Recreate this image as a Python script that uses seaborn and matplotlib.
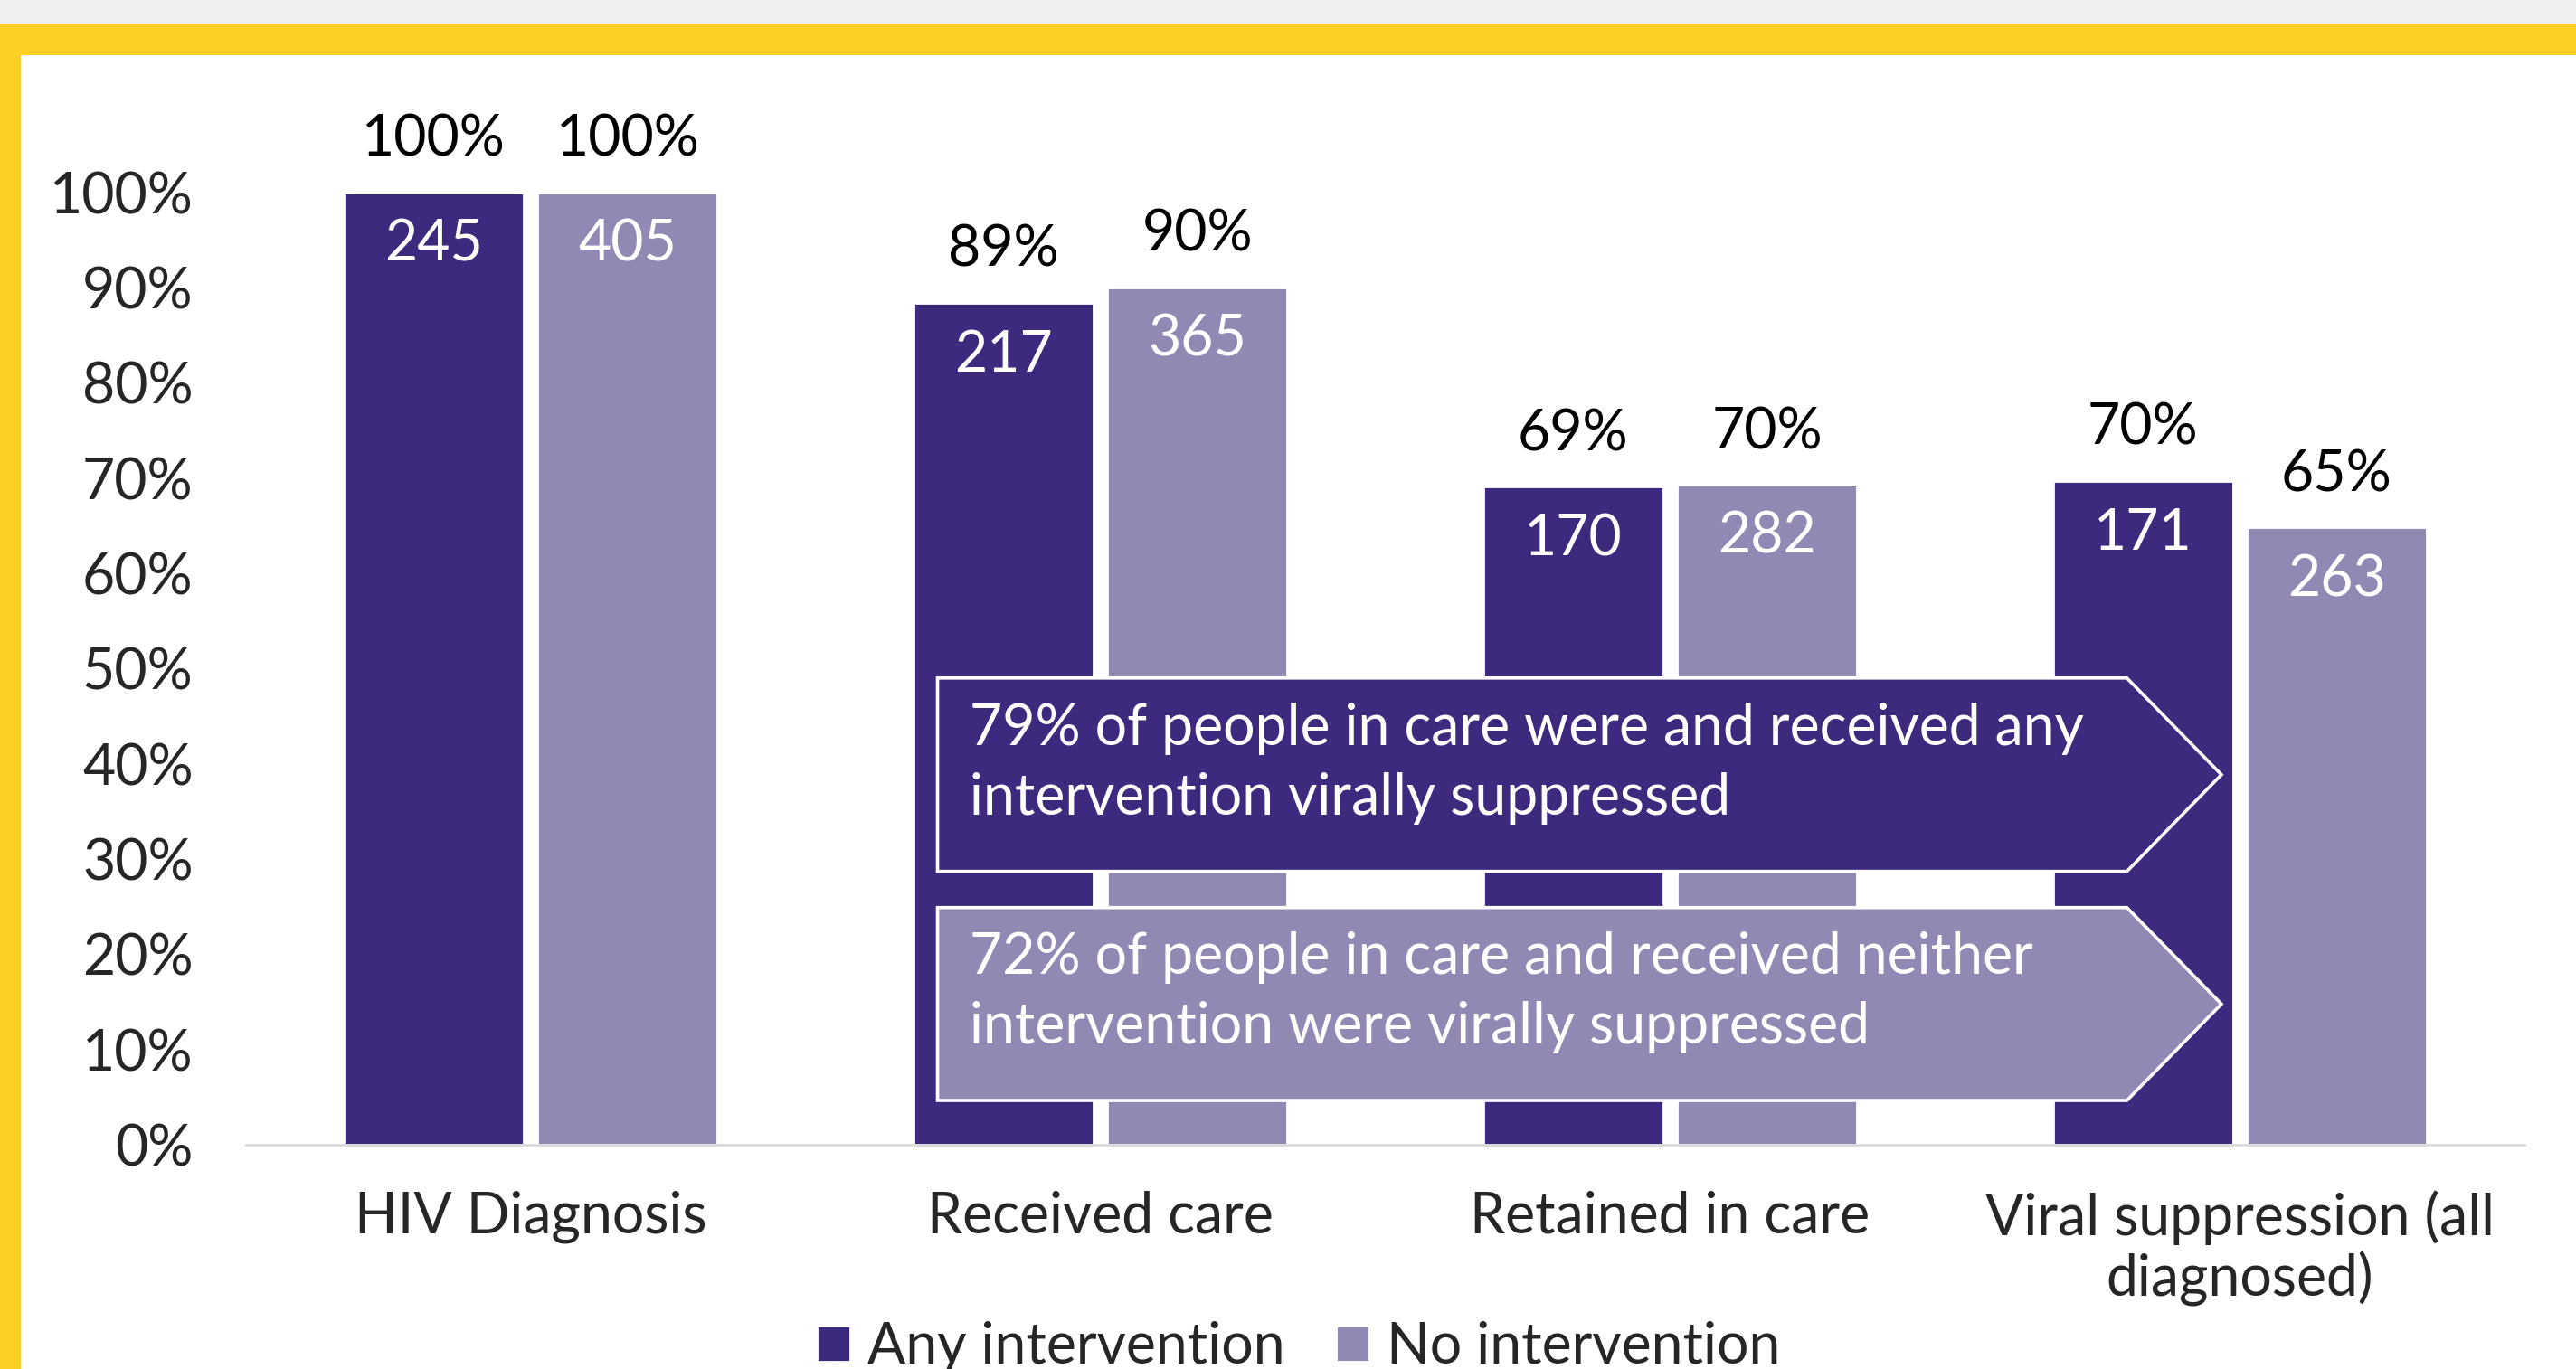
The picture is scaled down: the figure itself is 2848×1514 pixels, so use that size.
import matplotlib
matplotlib.use("Agg")
import matplotlib.pyplot as plt
from matplotlib.patches import Polygon, Rectangle
import pandas as pd
import seaborn as sns

# data
stages = ["HIV Diagnosis", "Received care", "Retained in care", "Viral suppression (all\ndiagnosed)"]
groups = ["Any intervention", "No intervention"]
any_height = [100, 88.4, 69.1, 69.7]
none_height = [100, 90.0, 69.3, 64.8]
any_pct = ["100%", "89%", "69%", "70%"]
none_pct = ["100%", "90%", "70%", "65%"]
any_n = ["245", "217", "170", "171"]
none_n = ["405", "365", "282", "263"]
yticks = list(range(0, 101, 10))
note_any = "79% of people in care were and received any\nintervention virally suppressed"
note_none = "72% of people in care and received neither\nintervention were virally suppressed"

DARK = "#3D2A7E"
LIGHT = "#9189B4"
YELLOW = "#FDD023"

df = pd.DataFrame({
    "stage": stages * 2,
    "group": [groups[0]] * 4 + [groups[1]] * 4,
    "height": any_height + none_height,
})

sns.set_style("white")
plt.rcParams["font.family"] = ["Lato", "DejaVu Sans"]
FS = 22.5

fig = plt.figure(figsize=(14.24, 7.57), dpi=200)
ax = fig.add_axes([0.0955, 0.1638, 0.8845, 0.6958])

sns.barplot(data=df, x="stage", y="height", hue="group", order=stages,
            hue_order=groups, palette=[DARK, LIGHT], width=0.68, gap=0.07,
            saturation=1, ax=ax)

ax.set_xlim(-0.5, 3.5)
ax.set_ylim(0, 100)
ax.set_yticks(yticks)
ax.set_yticklabels([f"{t}%" for t in yticks], fontsize=FS)
ax.tick_params(axis="y", length=0, pad=21)
ax.tick_params(axis="x", length=0, pad=18, labelsize=FS)
for lab in ax.get_xticklabels():
    lab.set_linespacing(1.15)
ax.set_xlabel("")
ax.set_ylabel("")
for s in ["top", "right", "left"]:
    ax.spines[s].set_visible(False)
ax.spines["bottom"].set_color("#D9D9D9")
ax.spines["bottom"].set_linewidth(1.0)

# value labels
for cont, pcts, ns in zip(ax.containers, [any_pct, none_pct], [any_n, none_n]):
    for bar, p, n in zip(cont, pcts, ns):
        cx = bar.get_x() + bar.get_width() / 2
        h = bar.get_height()
        ax.text(cx, h + 5.5, p, ha="center", va="center", fontsize=FS, color="black", clip_on=False)
        ax.text(cx, h - 5.5, n, ha="center", va="center", fontsize=FS, color="white")

# arrow call-outs
def callout(y_top, y_bot, color, text):
    x0, x1, xt = 0.714, 2.802, 2.968
    ym = (y_top + y_bot) / 2
    poly = Polygon([(x0, y_top), (x1, y_top), (xt, ym), (x1, y_bot), (x0, y_bot)],
                   closed=True, facecolor=color, edgecolor="white", linewidth=1.3,
                   zorder=4, clip_on=False)
    ax.add_patch(poly)
    ax.text(0.77, ym + 1.2, text, ha="left", va="center", fontsize=FS, color="white",
            linespacing=1.4, zorder=5)

callout(49.0, 28.7, DARK, note_any)
callout(24.9, 4.65, LIGHT, note_none)

# legend
handles, labels = ax.get_legend_handles_labels()
ax.get_legend().remove()
fig.legend(handles, labels, loc="center", bbox_to_anchor=(0.504, 0.016), ncol=2,
           frameon=False, fontsize=FS, handlelength=0.6, handleheight=0.6,
           handletextpad=0.3, columnspacing=0.9, borderpad=0)

# frame decoration
fig.patches.append(Rectangle((0, 1 - 26 / 1514), 1, 26 / 1514, transform=fig.transFigure,
                             facecolor="#EFEFEF", edgecolor="none", zorder=0))
fig.patches.append(Rectangle((0, 1 - 61 / 1514), 1, 35 / 1514, transform=fig.transFigure,
                             facecolor=YELLOW, edgecolor="none", zorder=0))
fig.patches.append(Rectangle((0, 0), 23 / 2848, 1 - 26 / 1514, transform=fig.transFigure,
                             facecolor=YELLOW, edgecolor="none", zorder=0))

fig.savefig("out.png", dpi=200)
